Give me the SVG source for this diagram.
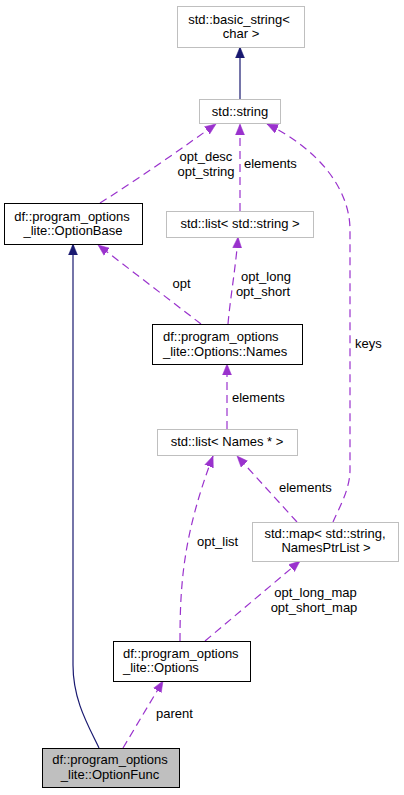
<svg xmlns="http://www.w3.org/2000/svg" width="404" height="795" viewBox="0 0 404 795">
<style>
text{font-family:"Liberation Sans",Arial,sans-serif;font-size:13px;fill:#000}
.m{text-anchor:middle}
.box{fill:#fff;stroke:#bfbfbf;stroke-width:1}
.cls{fill:#fff;stroke:#000;stroke-width:1}
.cur{fill:#bfbfbf;stroke:#000;stroke-width:1}
.inh{fill:none;stroke:#191970;stroke-width:1.2;marker-end:url(#an)}
.use{fill:none;stroke:#9a32cd;stroke-width:1.2;stroke-dasharray:8,5;marker-end:url(#ap)}
</style>
<defs>
<marker id="an" markerUnits="userSpaceOnUse" markerWidth="12" markerHeight="10" refX="11" refY="5" orient="auto"><path d="M0,0.5 L11,5 L0,9.5 z" fill="#191970" stroke="#191970" stroke-width="0.5"/></marker>
<marker id="ap" markerUnits="userSpaceOnUse" markerWidth="12" markerHeight="10" refX="11" refY="5" orient="auto"><path d="M0,0.5 L11,5 L0,9.5 z" fill="#9a32cd" stroke="#9a32cd" stroke-width="0.5"/></marker>
</defs>
<rect width="404" height="795" fill="#fff"/>
<g id="edges">
<path class="inh" d="M240,99 L240,47"/>
<path class="use" d="M100,203 C140,178 185,146 216,124"/>
<path class="use" d="M240,211 L240,124"/>
<path class="use" d="M333,522 C338,510 350,490 350,470 L350,230 C350,190 320,150 267,124"/>
<path class="use" d="M201,324 L98,245"/>
<path class="use" d="M228,324 C230,300 236,265 238,237"/>
<path class="use" d="M227,429 L227,364"/>
<path class="use" d="M297,522 L237,456"/>
<path class="use" d="M180,641 C180,585 183,535 213,456"/>
<path class="use" d="M205,641 L300,561"/>
<path class="use" d="M123,748 L163,681"/>
<path class="inh" d="M99,748 C88,725 73,700 73,665 L73,244"/>
<text class="m" x="206" y="160.5">opt_desc</text>
<text class="m" x="206" y="175.5">opt_string</text>
<text x="244" y="167.5">elements</text>
<text class="m" x="181.5" y="287.5">opt</text>
<text class="m" x="266" y="280.5">opt_long</text>
<text class="m" x="263" y="295.5">opt_short</text>
<text x="355" y="347.5">keys</text>
<text x="232" y="401.5">elements</text>
<text x="279" y="491.5">elements</text>
<text x="197" y="545.5">opt_list</text>
<text class="m" x="315.5" y="597">opt_long_map</text>
<text class="m" x="314" y="612">opt_short_map</text>
<text x="156" y="717.5">parent</text>
</g>
<g id="basic_string">
<rect class="box" x="177.5" y="6.5" width="127" height="41"/>
<text class="m" x="239" y="23.5">std::basic_string&lt;</text>
<text class="m" x="241" y="38">char &gt;</text>
</g>
<g id="string">
<rect class="box" x="199.5" y="99.5" width="81" height="24"/>
<text class="m" x="240" y="116">std::string</text>
</g>
<g id="OptionBase">
<rect class="cls" x="4.5" y="203.5" width="138" height="41"/>
<text class="m" x="72" y="220.5">df::program_options</text>
<text class="m" x="73" y="234.5">_lite::OptionBase</text>
</g>
<g id="list_string">
<rect class="box" x="166.5" y="211.5" width="147" height="26"/>
<text class="m" x="240" y="228">std::list&lt; std::string &gt;</text>
</g>
<g id="Names">
<rect class="cls" x="152.5" y="324.5" width="150" height="40"/>
<text x="163" y="340.5">df::program_options</text>
<text x="163" y="355.5">_lite::Options::Names</text>
</g>
<g id="list_names">
<rect class="box" x="157.5" y="429.5" width="140" height="26"/>
<text class="m" x="227" y="446">std::list&lt; Names * &gt;</text>
</g>
<g id="map">
<rect class="box" x="252.5" y="522.5" width="146" height="39"/>
<text class="m" x="325" y="537.5">std::map&lt; std::string,</text>
<text class="m" x="326" y="551.5">NamesPtrList &gt;</text>
</g>
<g id="Options">
<rect class="cls" x="113.5" y="641.5" width="137" height="40"/>
<text x="123" y="657.5">df::program_options</text>
<text x="123" y="671.5">_lite::Options</text>
</g>
<g id="OptionFunc">
<rect class="cur" x="42.5" y="748.5" width="137" height="39"/>
<text class="m" x="110" y="764">df::program_options</text>
<text class="m" x="110" y="779">_lite::OptionFunc</text>
</g>
</svg>
